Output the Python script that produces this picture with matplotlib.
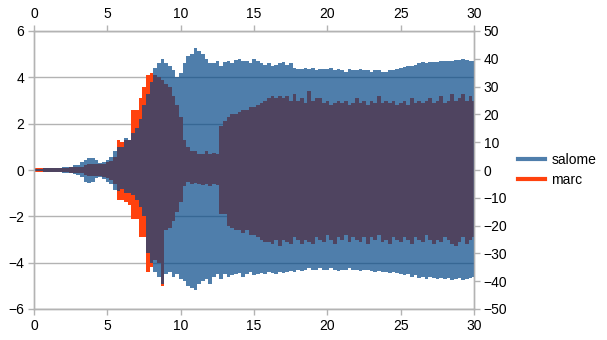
import numpy as np
import matplotlib
matplotlib.use("Agg")
from matplotlib import pyplot as plt
from matplotlib.lines import Line2D

plt.rcParams['font.family'] = ['Liberation Sans', 'DejaVu Sans']
plt.rcParams['font.size'] = 10

# envelope of each signal, sampled every 0.25 s (one row per second)
t = np.arange(0, 30.001, 0.25)

salome_up = [
    0.05, 0.06, 0.06, 0.07,
    0.08, 0.08, 0.09, 0.10,
    0.12, 0.14, 0.15, 0.20,
    0.22, 0.35, 0.45, 0.50,
    0.50, 0.45, 0.30, 0.35,
    0.45, 0.55, 0.80, 1.00,
    1.00, 1.40, 1.30, 1.60,
    1.80, 2.20, 2.80, 3.30,
    3.80, 4.40, 4.60, 4.80,
    4.60, 4.50, 4.30, 4.00,
    4.20, 4.60, 4.90, 5.00,
    5.25, 5.15, 5.00, 4.80,
    4.60, 4.60, 4.70, 4.50,
    4.65, 4.70, 4.60, 4.75,
    4.80, 4.70, 4.70, 4.60,
    4.80, 4.70, 4.60, 4.55,
    4.60, 4.50, 4.55, 4.60,
    4.65, 4.55, 4.60, 4.40,
    4.35, 4.35, 4.40, 4.35,
    4.40, 4.30, 4.35, 4.35,
    4.35, 4.40, 4.30, 4.35,
    4.30, 4.25, 4.35, 4.30,
    4.30, 4.35, 4.30, 4.30,
    4.25, 4.30, 4.30, 4.25,
    4.25, 4.30, 4.30, 4.35,
    4.40, 4.45, 4.50, 4.50,
    4.55, 4.60, 4.65, 4.60,
    4.65, 4.65, 4.65, 4.70,
    4.70, 4.70, 4.70, 4.75,
    4.75, 4.80, 4.75, 4.70,
    4.70,
]
salome_lo = [
    -0.05, -0.06, -0.06, -0.07,
    -0.08, -0.08, -0.09, -0.10,
    -0.12, -0.13, -0.15, -0.18,
    -0.22, -0.30, -0.50, -0.55,
    -0.50, -0.35, -0.30, -0.40,
    -0.50, -0.60, -0.85, -0.90,
    -0.80, -1.00, -1.00, -1.10,
    -1.30, -1.60, -2.00, -3.60,
    -4.00, -4.40, -4.60, -4.90,
    -4.50, -4.40, -4.60, -4.50,
    -4.70, -4.80, -5.00, -5.10,
    -5.20, -4.90, -4.80, -4.70,
    -4.90, -4.60, -4.50, -4.70,
    -4.50, -4.60, -4.55, -4.50,
    -4.45, -4.60, -4.50, -4.40,
    -4.55, -4.50, -4.45, -4.50,
    -4.40, -4.45, -4.50, -4.40,
    -4.45, -4.40, -4.35, -4.40,
    -4.30, -4.35, -4.30, -4.25,
    -4.30, -4.30, -4.25, -4.30,
    -4.30, -4.25, -4.30, -4.35,
    -4.30, -4.30, -4.25, -4.30,
    -4.30, -4.35, -4.30, -4.30,
    -4.35, -4.40, -4.35, -4.40,
    -4.40, -4.45, -4.40, -4.45,
    -4.50, -4.55, -4.50, -4.60,
    -4.55, -4.65, -4.60, -4.70,
    -4.60, -4.65, -4.70, -4.65,
    -4.70, -4.65, -4.75, -4.70,
    -4.65, -4.75, -4.70, -4.65,
    -4.60,
]
marc_up = [
    0.08, 0.09, 0.08, 0.09,
    0.09, 0.10, 0.09, 0.10,
    0.10, 0.10, 0.11, 0.12,
    0.12, 0.15, 0.20, 0.25,
    0.25, 0.25, 0.25, 0.25,
    0.35, 0.40, 0.55, 1.30,
    1.20, 1.30, 1.30, 2.60,
    2.60, 3.10, 3.60, 4.10,
    4.20, 4.10, 4.00, 3.90,
    3.70, 3.60, 3.20, 2.80,
    2.30, 1.30, 1.00, 0.80,
    0.80, 0.70, 0.70, 0.80,
    0.70, 0.75, 0.70, 1.90,
    2.10, 2.30, 2.40, 2.40,
    2.50, 2.60, 2.60, 2.70,
    2.70, 2.80, 2.90, 3.00,
    3.10, 3.20, 3.10, 3.20,
    3.10, 3.20, 3.00, 3.30,
    3.00, 3.10, 2.90, 3.40,
    3.00, 3.10, 3.10, 2.90,
    3.00, 2.80, 2.90, 3.00,
    2.90, 3.00, 2.80, 2.90,
    3.10, 2.90, 3.00, 2.80,
    3.00, 2.90, 3.20, 2.90,
    3.00, 2.90, 3.00, 2.80,
    2.90, 3.00, 2.80, 3.10,
    2.90, 3.00, 2.90, 3.00,
    3.10, 2.90, 3.00, 3.20,
    2.90, 3.00, 3.30, 3.00,
    3.10, 3.30, 3.00, 3.20,
    3.00,
]
marc_lo = [
    -0.08, -0.09, -0.08, -0.09,
    -0.09, -0.10, -0.09, -0.10,
    -0.10, -0.10, -0.11, -0.12,
    -0.12, -0.15, -0.20, -0.25,
    -0.25, -0.25, -0.25, -0.30,
    -0.35, -0.45, -0.60, -1.30,
    -1.30, -1.40, -1.50, -2.10,
    -2.10, -2.90, -2.90, -4.40,
    -4.20, -3.90, -4.00, -5.00,
    -2.60, -2.50, -2.20, -1.80,
    -1.40, -0.70, -0.50, -0.60,
    -0.55, -0.60, -0.65, -0.60,
    -0.70, -0.60, -0.65, -1.90,
    -1.90, -2.40, -2.50, -2.60,
    -2.60, -2.70, -2.60, -2.80,
    -2.80, -2.90, -3.00, -3.10,
    -3.10, -3.20, -3.00, -3.30,
    -3.00, -3.10, -3.20, -2.90,
    -3.00, -3.20, -3.00, -3.10,
    -3.20, -2.90, -3.00, -3.10,
    -2.80, -3.00, -3.20, -2.90,
    -3.00, -2.80, -3.10, -2.90,
    -3.00, -3.10, -2.90, -3.20,
    -2.90, -3.00, -2.80, -3.10,
    -3.00, -3.20, -2.90, -3.00,
    -3.10, -2.90, -3.00, -3.20,
    -2.90, -3.00, -3.10, -2.80,
    -3.00, -3.20, -3.00, -3.10,
    -2.90, -3.00, -3.20, -3.30,
    -3.10, -2.90, -3.20, -3.00,
    -2.90,
]

x_ticks = [0, 5, 10, 15, 20, 25, 30]
left_ticks = [-6, -4, -2, 0, 2, 4, 6]
right_ticks = [-50, -40, -30, -20, -10, 0, 10, 20, 30, 40, 50]

c_salome = '#004586'
c_marc = '#ff420e'
c_axis = '#b3b3b3'

fig = plt.figure(figsize=(6.07, 3.40), dpi=100)
ax = fig.add_axes([34 / 607, 31 / 340, 440 / 607, 278 / 340])

ax.fill_between(t, marc_lo, marc_up, step='mid', color=c_marc, lw=0, zorder=2)
ax.fill_between(t, salome_lo, salome_up, step='mid', color=c_salome,
                alpha=0.69, lw=0, zorder=3)

ax.set_xlim(0, 30)
ax.set_ylim(-6, 6)
ax.set_xticks(x_ticks)
ax.set_yticks(left_ticks)
ax.yaxis.grid(True, color=c_axis, lw=1)
ax.set_axisbelow(True)
ax.tick_params(axis='x', top=True, labeltop=True, bottom=True, labelbottom=True,
               length=4, width=1, color=c_axis, pad=3)
ax.tick_params(axis='y', length=4, width=1, color=c_axis, pad=3)

ax2 = ax.twinx()
ax2.set_ylim(-50, 50)
ax2.set_yticks(right_ticks)
ax2.tick_params(axis='y', length=4, width=1, color=c_axis, pad=3)

for a in (ax, ax2):
    for sp in a.spines.values():
        sp.set_color(c_axis)
        sp.set_linewidth(1)

handles = [Line2D([], [], color=c_salome, alpha=0.69, lw=3),
           Line2D([], [], color=c_marc, lw=3)]
fig.legend(handles, ['salome', 'marc'], loc='center left',
           bbox_to_anchor=(505 / 607, 0.5), frameon=False,
           handlelength=2.0, handletextpad=0.45, labelspacing=0.45)

fig.savefig('out.png', dpi=100)
